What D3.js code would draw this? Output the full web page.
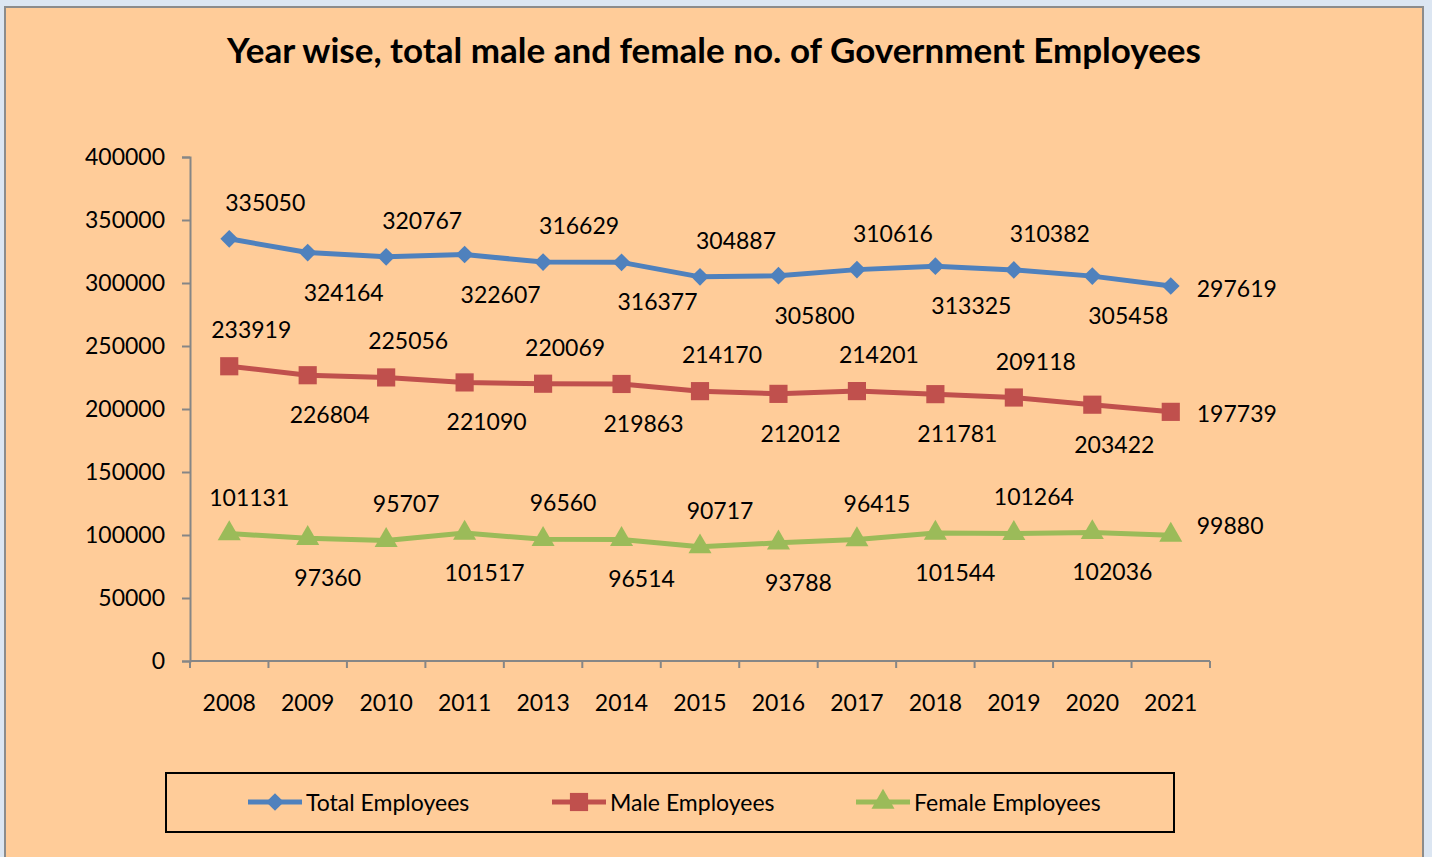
<!DOCTYPE html>
<html>
<head>
<meta charset="utf-8">
<script src="https://cdn.jsdelivr.net/npm/d3@7"></script>
<style>
  html, body { margin: 0; padding: 0; background: #dce6f2; }
  svg { display: block; font-family: Lato, "Open Sans", sans-serif; }
</style>
</head>
<body>
<div id="chart"></div>
<script>
// data
const years = ['2008', '2009', '2010', '2011', '2013', '2014', '2015', '2016', '2017', '2018', '2019', '2020', '2021']
const totalEmployees = [335050, 324164, 320767, 322607, 316629, 316377, 304887, 305800, 310616, 313325, 310382, 305458, 297619]
const maleEmployees = [233919, 226804, 225056, 221090, 220069, 219863, 214170, 212012, 214201, 211781, 209118, 203422, 197739]
const femaleEmployees = [101131, 97360, 95707, 101517, 96560, 96514, 90717, 93788, 96415, 101544, 101264, 102036, 99880]
const yTicks = [0, 50000, 100000, 150000, 200000, 250000, 300000, 350000, 400000]
const title = 'Year wise, total male and female no. of Government Employees'

const width = 1432
const height = 857
const plot = {left: 190, right: 1210, top: 157, bottom: 661}
const fontSize = '23px'

const series = [
  {name: 'Total Employees', values: totalEmployees, color: '#4f81bd', marker: 'diamond', dx: 36, lastDy: 2},
  {name: 'Male Employees', values: maleEmployees, color: '#c0504d', marker: 'square', dx: 22, lastDy: 1},
  {name: 'Female Employees', values: femaleEmployees, color: '#9bbb59', marker: 'triangle', dx: 20, lastDy: -10}
]

const svg = d3.select('#chart')
  .append('svg')
  .attr('width', width)
  .attr('height', height)

// chart frame
svg.append('rect')
  .attr('x', 5).attr('y', 7)
  .attr('width', 1418).attr('height', 870)
  .attr('fill', '#ffcc99')
  .attr('stroke', '#8c8c8c')
  .attr('stroke-width', 2)

svg.append('text')
  .attr('x', 714).attr('y', 63)
  .attr('text-anchor', 'middle')
  .style('font-size', '35px')
  .style('font-weight', 'bold')
  .text(title)

const x = d3.scaleBand()
  .domain(years)
  .range([plot.left, plot.right])

const y = d3.scaleLinear()
  .domain([0, 400000])
  .range([plot.bottom, plot.top])

// axes
const yAxis = d3.axisLeft(y).tickValues(yTicks).tickFormat(d3.format('d')).tickSize(8).tickPadding(17)
const xAxis = d3.axisBottom(x).tickSize(0).tickPadding(34)

svg.append('g')
  .attr('transform', `translate(${plot.left}, 0)`)
  .call(yAxis)
const gx = svg.append('g')
  .attr('transform', `translate(0, ${plot.bottom})`)
  .call(xAxis)

// boundary ticks between categories
gx.selectAll('.bound')
  .data(d3.range(years.length + 1))
  .join('line')
  .attr('class', 'bound')
  .attr('x1', i => plot.left + i * x.step())
  .attr('x2', i => plot.left + i * x.step())
  .attr('y1', 0).attr('y2', 7)

svg.selectAll('.domain, .tick line, .bound')
  .attr('stroke', '#868686')
  .attr('stroke-width', 2)
gx.select('.domain').attr('d', `M${plot.left},0H${plot.right}`)
svg.selectAll('.tick text')
  .attr('fill', '#000')
  .style('font-size', fontSize)
  .style('font-family', 'Lato, "Open Sans", sans-serif')

const cx = d => x(d) + x.bandwidth() / 2

const line = d3.line()
  .x((d, i) => cx(years[i]))
  .y(d => y(d))

const markerPath = {
  diamond: d3.symbol(d3.symbolDiamond2, 200),
  square: d3.symbol(d3.symbolSquare, 330),
  triangle: d3.symbol(d3.symbolTriangle, 230)
}

series.forEach(s => {
  const g = svg.append('g')
  g.append('path')
    .attr('d', line(s.values))
    .attr('fill', 'none')
    .attr('stroke', s.color)
    .attr('stroke-width', 5)
    .attr('stroke-linejoin', 'round')

  g.selectAll('.marker')
    .data(s.values)
    .join('path')
    .attr('d', markerPath[s.marker]())
    .attr('transform', (d, i) => `translate(${cx(years[i])}, ${y(d)})`)
    .attr('fill', s.color)

  // data labels alternate above / below, last one sits to the right
  const last = s.values.length - 1
  g.selectAll('.label')
    .data(s.values)
    .join('text')
    .attr('x', (d, i) => i === last ? cx(years[i]) + 26 : cx(years[i]) + s.dx)
    .attr('y', (d, i) => {
      if (i === last) return y(d) + s.lastDy
      return i % 2 === 0 ? y(d) - 37 : y(d) + 39
    })
    .attr('text-anchor', (d, i) => i === last ? 'start' : 'middle')
    .attr('dominant-baseline', 'central')
    .style('font-size', fontSize)
    .text(d => d)
})

// legend
const legend = svg.append('g')
legend.append('rect')
  .attr('x', 166).attr('y', 773)
  .attr('width', 1008).attr('height', 59)
  .attr('fill', 'none')
  .attr('stroke', '#000')
  .attr('stroke-width', 2)

const legendX = [248, 552, 856]
series.forEach((s, i) => {
  const lg = legend.append('g').attr('transform', `translate(${legendX[i]}, 802)`)
  lg.append('line')
    .attr('x1', 0).attr('x2', 54)
    .attr('stroke', s.color)
    .attr('stroke-width', 5)
  lg.append('path')
    .attr('d', markerPath[s.marker]())
    .attr('transform', 'translate(27, 0)')
    .attr('fill', s.color)
  lg.append('text')
    .attr('x', 58)
    .attr('dominant-baseline', 'central')
    .style('font-size', fontSize)
    .text(s.name)
})
</script>
</body>
</html>
